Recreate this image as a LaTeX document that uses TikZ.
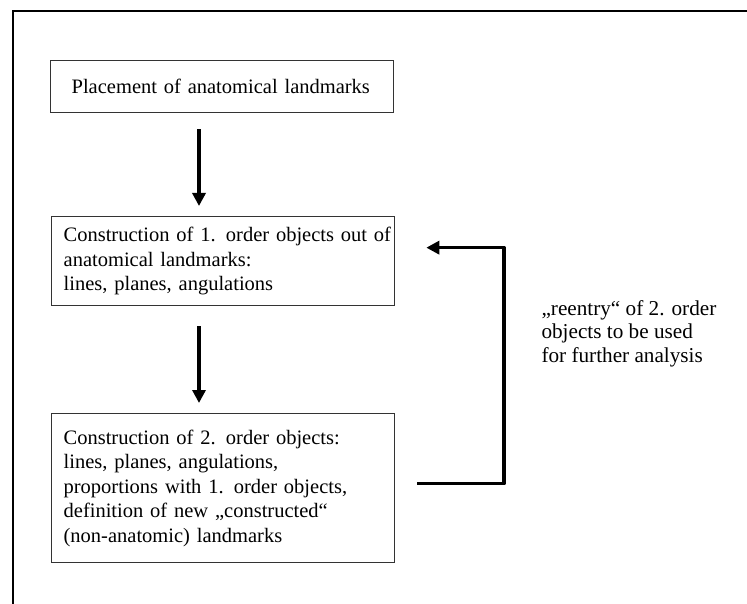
\documentclass[tikz,border=0pt]{standalone}
\usepackage{fontspec}
\setmainfont{Liberation Serif}
\usetikzlibrary{arrows.meta,calc}
\begin{document}
\begin{tikzpicture}[x=1pt,y=-1pt,
  box/.style={draw=black!80,line width=1.3pt,minimum width=343pt,inner xsep=12pt,inner ysep=0pt,
    anchor=north west,text width=319pt,align=left,font=\fontsize{20.5}{24.5}\selectfont},
  flow/.style={line width=3.6pt,line join=round,-{Triangle[width=13pt,length=13pt]}},
  note/.style={anchor=base west,align=left,font=\fontsize{21.2}{23.5}\selectfont}
]
\useasboundingbox (0,0) rectangle (747,604);
\fill[white] (0,0) rectangle (747,604);
% frame running off the page to the right and bottom
\draw[line width=2.6pt] (747,11) -- (13,11) -- (13,604);

\node[box,inner xsep=21pt,text width=301pt,minimum height=52pt] (b1) at (50,60)
  {Placement of anatomical landmarks};
\node[box,minimum height=89pt] (b2) at (51,216)
  {\mbox{Construction of\,\,1. order objects out of}\\anatomical landmarks:\\lines, planes, angulations};
\node[box,minimum height=149pt] (b3) at (51,413)
  {Construction of\,\,2. order objects:\\lines, planes, angulations,\\proportions with 1. order objects,\\definition of new „constructed“\\(non-anatomic) landmarks};

% multi-line node: its base is the baseline of the last line
\node[note] (t) at (538,362) {„reentry“ of 2. order\\objects to be used\\for further analysis};

\coordinate (ax) at (199,0);
\coordinate (rx) at (504,0);
\draw[flow] ($(b1.south -| ax)+(0,16)$) -- ($(b2.north -| ax)+(0,-10)$);
\draw[flow] ($(b2.south -| ax)+(0,20)$) -- ($(b3.north -| ax)+(0,-10)$);
\draw[flow] ($(b3.east)+(22,-4.5)$) -- ($(b3.east -| rx)+(0,-4.5)$)
  -- ($(b2.east -| rx)+(0,-13.5)$) -- ($(b2.east)+(31,-13.5)$);
\end{tikzpicture}
\end{document}
